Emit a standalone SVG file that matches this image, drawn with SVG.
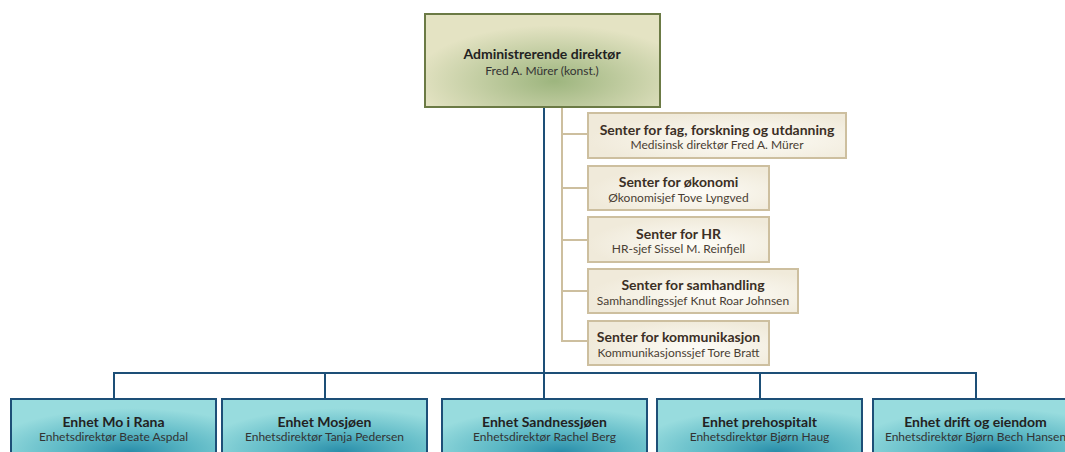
<svg xmlns="http://www.w3.org/2000/svg" width="1065" height="452" viewBox="0 0 1065 452">
<style>
.t{font-family:Lato,"Noto Sans",sans-serif;font-weight:bold;fill:#222;text-anchor:middle}
.s{font-family:Lato,"Noto Sans",sans-serif;fill:#333;text-anchor:middle}
.ts{font-family:Lato,"Noto Sans",sans-serif;font-weight:bold;fill:#3b2f25;text-anchor:middle}
.ss{font-family:Lato,"Noto Sans",sans-serif;fill:#4a3e33;text-anchor:middle}
.sub{fill:url(#gs);stroke:#cdbf9f;stroke-width:2}
.unit{fill:url(#gb);stroke:#1d4f77;stroke-width:2}
.blue{stroke:#1d4f77;stroke-width:2;fill:none}
.tan{stroke:#cdbf9f;stroke-width:2;fill:none}
</style>
<defs>
<radialGradient id="gt" cx="0.55" cy="0.72" r="0.6">
<stop offset="0" stop-color="#9db57e"/>
<stop offset="1" stop-color="#e4e3c3"/>
</radialGradient>
<radialGradient id="gs" cx="0.6" cy="0.6" r="0.6">
<stop offset="0" stop-color="#fdfcf7"/>
<stop offset="1" stop-color="#f0eada"/>
</radialGradient>
<radialGradient id="gb" cx="0.58" cy="0.85" r="0.7">
<stop offset="0" stop-color="#2a8eaa"/>
<stop offset="0.45" stop-color="#5cb8c5"/>
<stop offset="1" stop-color="#98dcde"/>
</radialGradient>
</defs>
<g id="connectors">
<path class="blue" d="M544 107 V373 M114 373 H976 M114 372 V399 M325 372 V399 M544 372 V399 M760 372 V399 M976 372 V399"/>
<path class="tan" d="M562 107 V342 M562 134 H588 M562 188 H588 M562 240 H588 M562 291 H588 M562 341 H588"/>
</g>
<g id="n-direktor">
<rect x="425" y="14" width="235" height="93" fill="url(#gt)" stroke="#6b7a45" stroke-width="2"/>
<text class="t" x="542" y="59" font-size="14">Administrerende direktør</text>
<text class="s" x="542" y="75" font-size="12">Fred A. Mürer (konst.)</text>
</g>
<g id="n-fag">
<rect class="sub" x="588" y="113" width="258" height="45"/>
<text class="ts" x="717" y="135" font-size="14">Senter for fag, forskning og utdanning</text>
<text class="ss" x="717" y="149" font-size="12">Medisinsk direktør Fred A. Mürer</text>
</g>
<g id="n-okonomi">
<rect class="sub" x="588" y="166" width="181" height="44"/>
<text class="ts" x="678.5" y="187" font-size="14">Senter for økonomi</text>
<text class="ss" x="678.5" y="202" font-size="12">Økonomisjef Tove Lyngved</text>
</g>
<g id="n-hr">
<rect class="sub" x="588" y="217" width="181" height="45"/>
<text class="ts" x="678.5" y="239" font-size="14">Senter for HR</text>
<text class="ss" x="678.5" y="253" font-size="12">HR-sjef Sissel M. Reinfjell</text>
</g>
<g id="n-samhandling">
<rect class="sub" x="588" y="269" width="210" height="44"/>
<text class="ts" x="693" y="290" font-size="14">Senter for samhandling</text>
<text class="ss" x="693" y="305" font-size="12">Samhandlingssjef Knut Roar Johnsen</text>
</g>
<g id="n-kommunikasjon">
<rect class="sub" x="588" y="321" width="181" height="44"/>
<text class="ts" x="678.5" y="342" font-size="14">Senter for kommunikasjon</text>
<text class="ss" x="678.5" y="357" font-size="12">Kommunikasjonssjef Tore Bratt</text>
</g>
<g id="n-mo">
<rect class="unit" x="11" y="399" width="205" height="62"/>
<text class="t" x="113.5" y="427" font-size="14">Enhet Mo i Rana</text>
<text class="s" x="113.5" y="441" font-size="12">Enhetsdirektør Beate Aspdal</text>
</g>
<g id="n-mosjoen">
<rect class="unit" x="222" y="399" width="205" height="62"/>
<text class="t" x="324.5" y="427" font-size="14">Enhet Mosjøen</text>
<text class="s" x="324.5" y="441" font-size="12">Enhetsdirektør Tanja Pedersen</text>
</g>
<g id="n-sandnessjoen">
<rect class="unit" x="442" y="399" width="205" height="62"/>
<text class="t" x="544.5" y="427" font-size="14">Enhet Sandnessjøen</text>
<text class="s" x="544.5" y="441" font-size="12">Enhetsdirektør Rachel Berg</text>
</g>
<g id="n-prehospitalt">
<rect class="unit" x="657" y="399" width="205" height="62"/>
<text class="t" x="759.5" y="427" font-size="14">Enhet prehospitalt</text>
<text class="s" x="759.5" y="441" font-size="12">Enhetsdirektør Bjørn Haug</text>
</g>
<g id="n-drift">
<rect class="unit" x="873" y="399" width="205" height="62"/>
<text class="t" x="975.5" y="427" font-size="14">Enhet drift og eiendom</text>
<text class="s" x="975.5" y="441" font-size="12">Enhetsdirektør Bjørn Bech Hansen</text>
</g>
</svg>
